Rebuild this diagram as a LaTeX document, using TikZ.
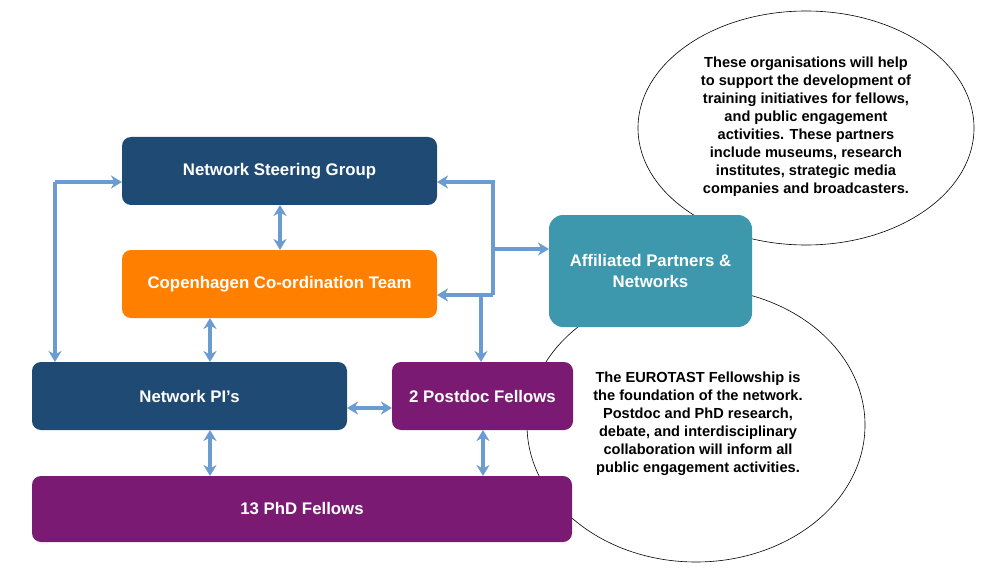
\documentclass[tikz,border=0pt]{standalone}
\usepackage{fontspec}
\setmainfont{Liberation Sans}
\usetikzlibrary{arrows.meta}
\definecolor{navy}{HTML}{1F4A73}
\definecolor{orng}{HTML}{FF8000}
\definecolor{purp}{HTML}{7B1A73}
\definecolor{teal2}{HTML}{3D98AE}
\definecolor{arr}{HTML}{6A9BD1}
\tikzset{box/.style={rounded corners=9pt,text=white,font=\bfseries\fontsize{16.8}{21}\selectfont,align=center,inner sep=0pt},
con/.style={arr,line width=3.4pt,-{Stealth[length=11pt,width=13pt]}},
dcon/.style={arr,line width=3.4pt,{Stealth[length=11pt,width=13pt]}-{Stealth[length=11pt,width=13pt]}},
note/.style={font=\bfseries\fontsize{14.6}{18}\selectfont,align=center}}
\begin{document}
\begin{tikzpicture}[x=1pt,y=-1pt]
\useasboundingbox (0,0) rectangle (982,572);
\draw[fill=white,line width=0.6pt] (806,128) ellipse [x radius=168,y radius=117];
\node[note] (t1) at (806,127) {These organisations will help\\to support the development of\\training initiatives for fellows,\\and public engagement\\activities. These partners\\include museums, research\\institutes, strategic media\\companies and broadcasters.};
\draw[fill=white,line width=0.6pt] (696,425) ellipse [x radius=169,y radius=137];
\node[note] (t2) at (698,424) {The EUROTAST Fellowship is\\the foundation of the network.\\Postdoc and PhD research,\\debate, and interdisciplinary\\collaboration will inform all\\public engagement activities.};
\fill[navy,rounded corners=9pt] (122,137) rectangle (437,205);
\node[box,minimum width=315pt,minimum height=68pt] (nsg) at (279.5,171) {Network Steering Group};
\fill[orng,rounded corners=9pt] (122,250) rectangle (437,318);
\node[box,minimum width=315pt,minimum height=68pt] (cct) at (279.5,284) {Copenhagen Co-ordination Team};
\fill[navy,rounded corners=9pt] (32,362) rectangle (347,430);
\node[box,minimum width=315pt,minimum height=68pt] (pi) at (189.5,396) {Network PI’s};
\fill[purp,rounded corners=9pt] (392,362) rectangle (573,430);
\node[box,minimum width=181pt,minimum height=68pt] (pd) at (482.5,396) {2 Postdoc Fellows};
\fill[purp,rounded corners=9pt] (32,476) rectangle (572,542);
\node[box,minimum width=540pt,minimum height=66pt] (phd) at (302,509) {13 PhD Fellows};
\fill[teal2,rounded corners=14pt] (549,215) rectangle (752,327);
\node[box,minimum width=203pt,minimum height=112pt] (aff) at (650.5,271) {Affiliated Partners \&\\Networks};
\coordinate (j1) at (493,182);
\coordinate (j2) at (493,249);
\coordinate (j3) at (493,295);
\coordinate (j4) at (481,295);
\coordinate (l1) at (55,182);
\draw[con] (j3) -- (j1) -- (437,182);
\draw[con] (j3) -- (437,295);
\draw[con] (j2) -- (549,249);
\draw[con] (j4) -- (481,362);
\draw[con] (l1) -- (122,182);
\draw[con] (l1) -- (55,362);
\draw[dcon] (280,205) -- (280,250);
\draw[dcon] (210,318) -- (210,362);
\draw[dcon] (347,408) -- (392,408);
\draw[dcon] (210,430) -- (210,476);
\draw[dcon] (483,430) -- (483,476);
\end{tikzpicture}
\end{document}
